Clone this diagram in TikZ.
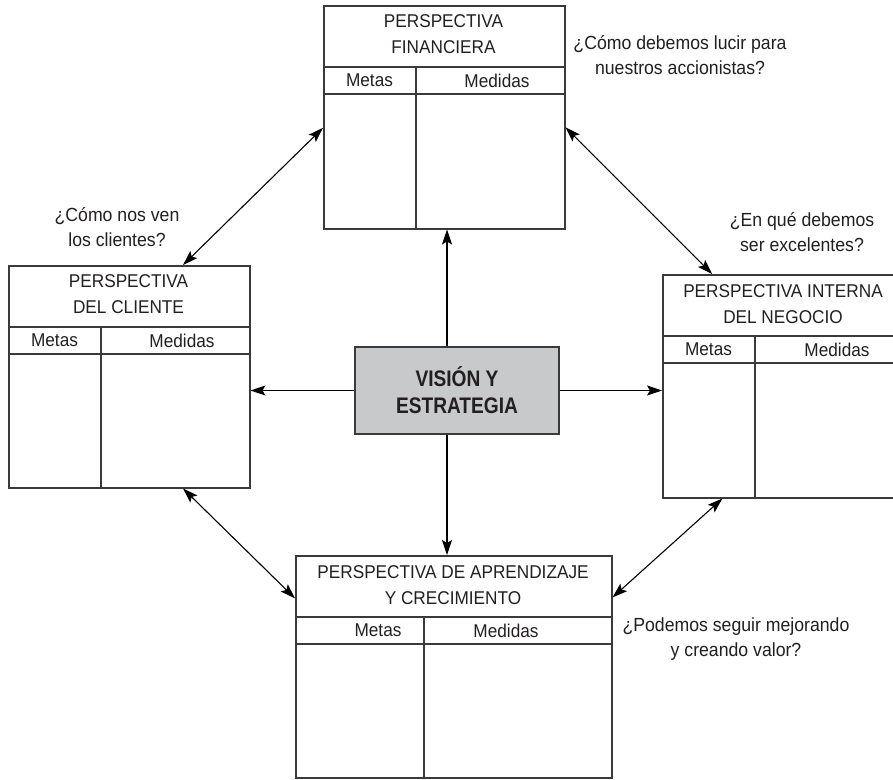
\documentclass[tikz,border=0pt]{standalone}
\usepackage{fontspec}
\usetikzlibrary{calc,arrows.meta}
\newfontfamily\panelfont{Liberation Sans}[FakeStretch=0.93]
\newfontfamily\hubfont{Liberation Sans}[FakeStretch=0.85]
\definecolor{ink}{HTML}{231F20}
\definecolor{frame}{HTML}{3A3A3A}
\definecolor{hubfill}{HTML}{C8C9CB}
\tikzset{
  panel/.style={draw=frame, line width=1.5pt, inner sep=0pt, anchor=north west, minimum height=223pt},
  rule/.style={draw=frame, line width=1.5pt},
  lbl/.style={text=ink, inner sep=0pt, font=\panelfont\fontsize{18.5}{26}\selectfont, align=center},
  question/.style={text=ink, inner sep=0pt, font=\panelfont\fontsize{19}{25}\selectfont, align=center},
  hub/.style={draw=frame, fill=hubfill, line width=1.5pt, minimum width=204pt, minimum height=87pt,
    inner sep=0pt, text=ink, align=center, font=\hubfont\bfseries\fontsize{22.5}{27}\selectfont},
  conn/.style={draw=black, line width=1.1pt},
  tip/.tip={Stealth[length=15pt,width=10pt,inset=3pt]}
}
\begin{document}
\begin{tikzpicture}[x=1pt,y=-1pt]
\clip (0,0) rectangle (893,779);
\fill[white] (0,0) rectangle (893,779);

% --- Perspectiva financiera
\node[panel, minimum width=241pt] (fin) at (323,5) {};
\draw[rule] ($(fin.north west)+(0,62)$) -- ($(fin.north east)+(0,62)$);
\draw[rule] ($(fin.north west)+(0,89)$) -- ($(fin.north east)+(0,89)$);
\draw[rule] ($(fin.north west)+(93,62)$) -- ($(fin.south west)+(93,0)$);
\node[lbl] (finT) at (443.5,34) {PERSPECTIVA\\FINANCIERA};
\node[lbl] (finA) at (369.5,80.5) {Metas};
\node[lbl] (finB) at (497,80.5) {Medidas};

% --- Perspectiva del cliente
\node[panel, minimum width=241pt, minimum height=222pt] (cli) at (8,265) {};
\draw[rule] ($(cli.north west)+(0,62)$) -- ($(cli.north east)+(0,62)$);
\draw[rule] ($(cli.north west)+(0,89)$) -- ($(cli.north east)+(0,89)$);
\draw[rule] ($(cli.north west)+(93,62)$) -- ($(cli.south west)+(93,0)$);
\node[lbl] (cliT) at (128.5,294.5) {PERSPECTIVA\\DEL CLIENTE};
\node[lbl] (cliA) at (54.5,340.5) {Metas};
\node[lbl] (cliB) at (182,340.5) {Medidas};

% --- Perspectiva interna del negocio
\node[panel, minimum width=241pt] (int) at (662,274) {};
\draw[rule] ($(int.north west)+(0,62)$) -- ($(int.north east)+(0,62)$);
\draw[rule] ($(int.north west)+(0,89)$) -- ($(int.north east)+(0,89)$);
\draw[rule] ($(int.north west)+(93,62)$) -- ($(int.south west)+(93,0)$);
\node[lbl] (intT) at (783,304) {PERSPECTIVA INTERNA\\DEL NEGOCIO};
\node[lbl] (intA) at (708.5,349.5) {Metas};
\node[lbl] (intB) at (837,349.5) {Medidas};

% --- Perspectiva de aprendizaje y crecimiento
\node[panel, minimum width=316pt, minimum height=222pt] (apr) at (295,555) {};
\draw[rule] ($(apr.north west)+(0,62)$) -- ($(apr.north east)+(0,62)$);
\draw[rule] ($(apr.north west)+(0,89)$) -- ($(apr.north east)+(0,89)$);
\draw[rule] ($(apr.north west)+(129,62)$) -- ($(apr.south west)+(129,0)$);
\node[lbl] (aprT) at (453,585) {PERSPECTIVA DE APRENDIZAJE\\Y CRECIMIENTO};
\node[lbl] (aprA) at (378,630.5) {Metas};
\node[lbl] (aprB) at (506,630.5) {Medidas};

% --- Centre
\node[hub] (vision) at (457,390.5) {VISIÓN Y\\ESTRATEGIA};

% --- Guiding questions
\node[question] (qfin) at (680,55) {¿Cómo debemos lucir para\\nuestros accionistas?};
\node[question] (qint) at (802,232) {¿En qué debemos\\ser excelentes?};
\node[question] (qcli) at (117,227.5) {¿Cómo nos ven\\los clientes?};
\node[question] (qapr) at (736,639.5) {¿Podemos seguir mejorando\\y creando valor?};

% --- Arrows from the centre
\coordinate (vtop) at ($(vision.north)+(-10,0)$);
\coordinate (vbot) at ($(vision.south)+(-10,0)$);
\draw[conn,-tip] (vtop) -- (vtop |- fin.south);
\draw[conn,-tip] (vbot) -- (vbot |- apr.north);
\draw[conn,-tip] (vision.west) -- (vision.west -| cli.east);
\draw[conn,-tip] (vision.east) -- (vision.east -| int.west);

% --- Arrows between perspectives
\draw[conn,tip-tip] ($(cli.north west)!0.722!(cli.north east)$) -- ($(fin.north west)!0.547!(fin.south west)$);
\draw[conn,tip-tip] ($(fin.north east)!0.545!(fin.south east)$) -- ($(int.north west)!0.207!(int.north east)$);
\draw[conn,tip-tip] ($(cli.south west)!0.722!(cli.south east)$) -- ($(apr.north west)!0.194!(apr.south west)$);
\draw[conn,tip-tip] ($(int.south west)!0.249!(int.south east)$) -- ($(apr.north east)!0.19!(apr.south east)$);
\end{tikzpicture}
\end{document}
